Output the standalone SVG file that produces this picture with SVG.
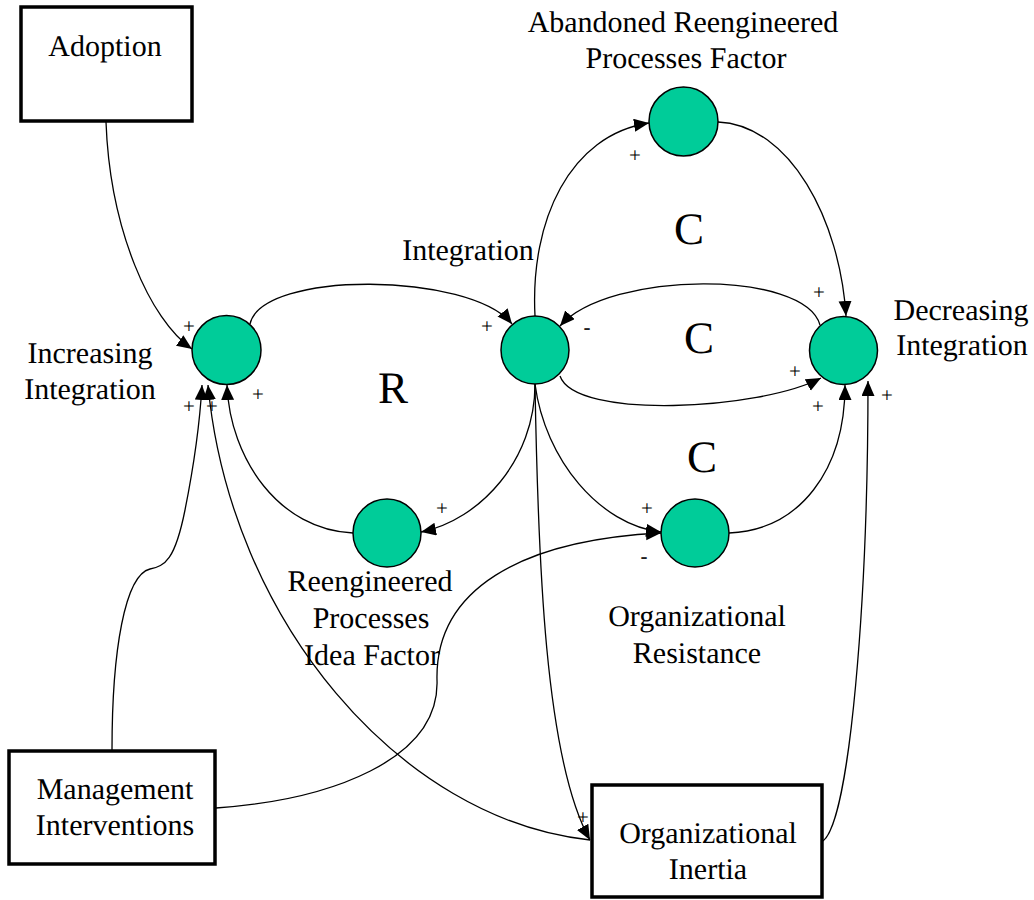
<svg xmlns="http://www.w3.org/2000/svg" width="1034" height="900" viewBox="0 0 1034 900">
<style>
text{text-rendering:geometricPrecision}
.lbl{font-family:"Liberation Serif","Times New Roman",serif;font-size:30px;fill:#000;text-anchor:middle}
.big{font-family:"Liberation Serif","Times New Roman",serif;font-size:45px;fill:#000;text-anchor:middle}
.sgn{font-family:"Liberation Serif","Times New Roman",serif;font-size:21px;fill:#000;text-anchor:middle}
.node{fill:#00CC99;stroke:#000;stroke-width:1.5}
.box{fill:#fff;stroke:#000;stroke-width:3.5}
.edge{fill:none;stroke:#000;stroke-width:1.3}
.arr{marker-end:url(#ah)}
</style>
<defs>
<marker id="ah" markerUnits="userSpaceOnUse" markerWidth="17" markerHeight="14" refX="15" refY="6.5" orient="auto">
<path d="M0,0 L15,6.5 L0,13 z" fill="#000"/>
</marker>
</defs>
<rect width="1034" height="900" fill="#fff"/>
<g id="connectors">
<path class="edge arr" d="M106,122 C110,230 150,320 192,349"/>
<path class="edge arr" d="M250,324 C262,270 470,272 512,324"/>
<path class="edge arr" d="M535,316 C530,220 570,135 649,123"/>
<path class="edge arr" d="M718,122 C790,125 840,220 846,316"/>
<path class="edge arr" d="M820,325 C805,270 610,270 560,326"/>
<path class="edge arr" d="M560,376 C575,420 760,410 821,378"/>
<path class="edge arr" d="M535,384 C535,460 480,520 421,532"/>
<path class="edge arr" d="M353,533 C280,530 230,460 227,385"/>
<path class="edge arr" d="M535,384 C545,460 600,525 661,532"/>
<path class="edge arr" d="M729,533 C800,530 845,470 845,385"/>
<path class="edge arr" d="M535,384 C538,560 545,760 590,840"/>
<path class="edge arr" d="M112,750 C112,650 125,575 150,569 C165,566 175,560 185,510 C195,460 200,420 202,385"/>
<path class="edge arr" d="M590,840 C400,820 230,620 208,385"/>
<path class="edge arr" d="M216,808 C330,800 440,760 437,680 C435,590 520,540 661,533"/>
<path class="edge arr" d="M823,841 C850,820 868,600 868,381"/>
</g>
<g id="adoption"><rect class="box" x="21" y="7" width="171" height="114"/><text class="lbl" x="105" y="56">Adoption</text></g>
<g id="management"><rect class="box" x="9" y="751" width="206" height="113"/><text class="lbl" x="115" y="799">Management</text><text class="lbl" x="115" y="835">Interventions</text></g>
<g id="inertia"><rect class="box" x="592" y="785" width="230" height="112"/><text class="lbl" x="708" y="843">Organizational</text><text class="lbl" x="708" y="879">Inertia</text></g>
<g id="increasing"><circle class="node" cx="226.5" cy="350" r="34.5"/><text class="lbl" x="90" y="363">Increasing</text><text class="lbl" x="90" y="399">Integration</text></g>
<g id="integration"><circle class="node" cx="535" cy="350" r="34"/><text class="lbl" x="468" y="260">Integration</text></g>
<g id="abandoned"><circle class="node" cx="683.5" cy="121.5" r="34.5"/><text class="lbl" x="683" y="32">Abandoned Reengineered</text><text class="lbl" x="686" y="68">Processes Factor</text></g>
<g id="decreasing"><circle class="node" cx="843.5" cy="350.5" r="34"/><text class="lbl" x="961" y="320">Decreasing</text><text class="lbl" x="962" y="355">Integration</text></g>
<g id="reengineered"><circle class="node" cx="387" cy="533" r="34"/><text class="lbl" x="370" y="591">Reengineered</text><text class="lbl" x="371" y="628">Processes</text><text class="lbl" x="372" y="665">Idea Factor</text></g>
<g id="resistance"><circle class="node" cx="695" cy="533" r="34"/><text class="lbl" x="697" y="626">Organizational</text><text class="lbl" x="697" y="663">Resistance</text></g>
<g id="loops">
<text class="big" x="393" y="403">R</text>
<text class="big" x="689" y="244">C</text>
<text class="big" x="699" y="353">C</text>
<text class="big" x="702" y="472">C</text>
</g>
<g id="signs">
<text class="sgn" x="189" y="333">+</text>
<text class="sgn" x="189" y="413">+</text>
<text class="sgn" x="212" y="413">+</text>
<text class="sgn" x="258" y="401">+</text>
<text class="sgn" x="487" y="333">+</text>
<text class="sgn" x="587" y="334">-</text>
<text class="sgn" x="635" y="162">+</text>
<text class="sgn" x="819" y="299">+</text>
<text class="sgn" x="795" y="378">+</text>
<text class="sgn" x="818" y="413">+</text>
<text class="sgn" x="887" y="402">+</text>
<text class="sgn" x="442" y="515">+</text>
<text class="sgn" x="647" y="515">+</text>
<text class="sgn" x="644" y="563">-</text>
<text class="sgn" x="583" y="824">+</text>
</g>
</svg>
